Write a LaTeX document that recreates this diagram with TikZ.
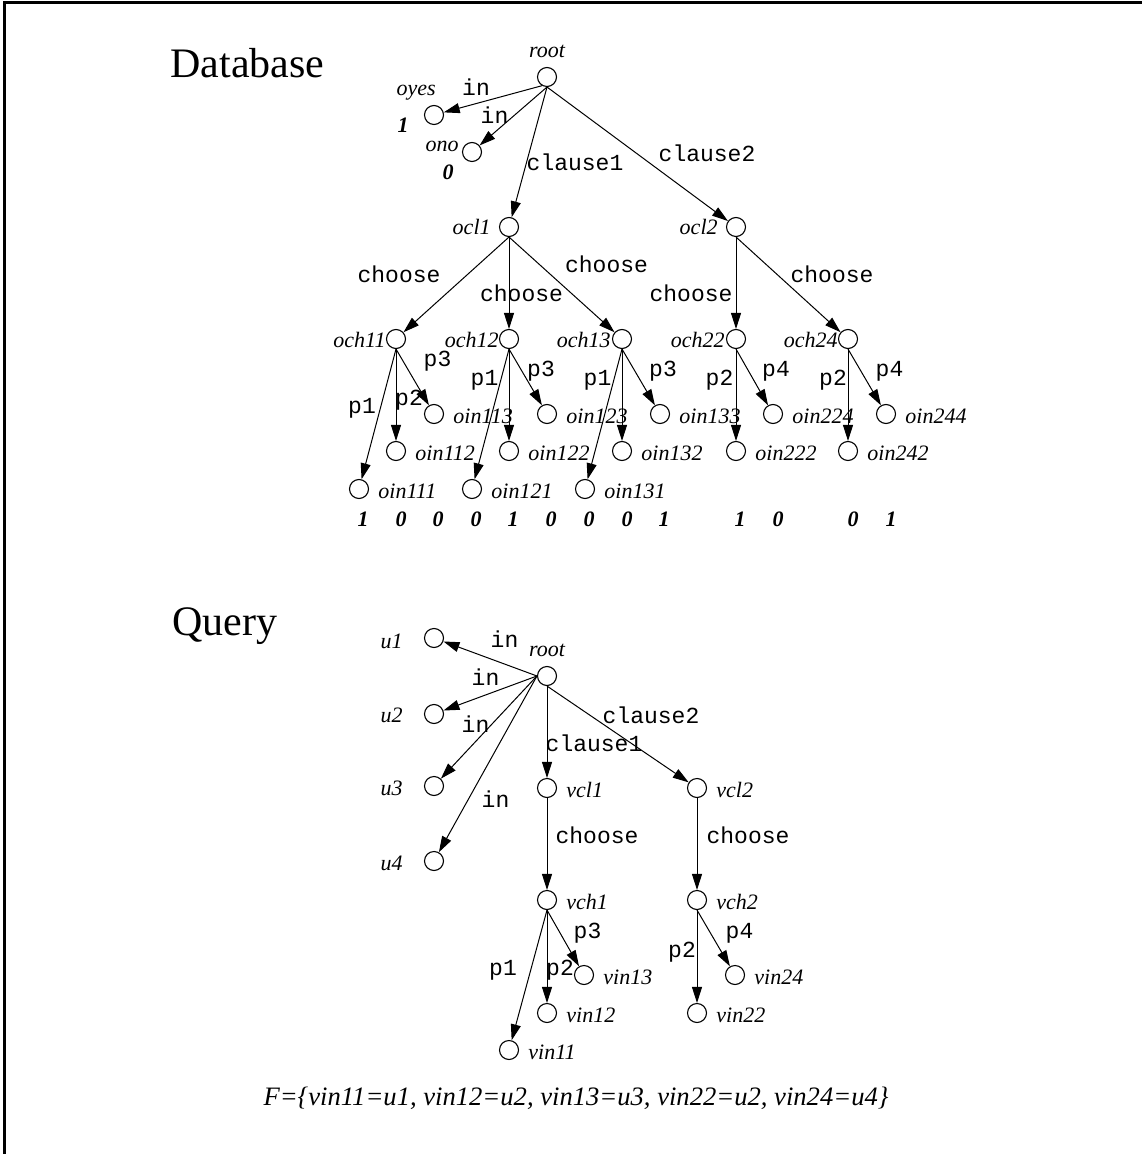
\documentclass[tikz,border=0pt]{standalone}
\usepackage{fontspec}
\setmainfont{Liberation Serif}
\setmonofont{Liberation Mono}
\usetikzlibrary{arrows.meta}

% vertex with its italic name set to the lower right
\newcommand{\leafnode}[4]{%
  \node[vtx] (#1) at (#2,#3) {};
  \node[nm,anchor=base west] (#1-l) at (#2+19,#3+9) {#4};}

\begin{document}
\begin{tikzpicture}[x=0.5pt,y=-0.5pt,
  vtx/.style={circle,draw,line width=0.55pt,minimum size=9.5pt,inner sep=0pt},
  nm/.style={inner sep=0pt,font=\fontsize{11}{13}\selectfont\itshape},
  val/.style={inner sep=0pt,anchor=base,font=\fontsize{11}{13}\selectfont\bfseries\itshape},
  elab/.style={inner sep=0pt,anchor=base,font=\fontsize{11.5}{13}\selectfont\ttfamily},
  title/.style={inner sep=0pt,anchor=base west,font=\fontsize{21}{24}\selectfont},
  formula/.style={inner sep=0pt,anchor=base,font=\fontsize{13.3}{15}\selectfont\itshape},
  edge/.style={-{Triangle[length=8pt,width=5pt]},line width=0.5pt},
  frameline/.style={line width=1.3pt,line join=miter}
]
\useasboundingbox (0,0) rectangle (1142,1154);

% open frame: left and top rules
\draw[frameline] (4.6,1154) -- (4.6,2.8) -- (1142,2.8);

% ---------------- Database ----------------
\node[title] (tdb) at (170,78) {Database};

\node[vtx] (droot) at (547,77) {};
\node[nm,anchor=base] (droot-l) at (547,58) {root};

\node[vtx] (oyes) at (434,115) {};
\node[nm,anchor=base east] (oyes-l) at (436,96) {oyes};
\node[val] (oyes-v) at (403,133) {1};

\node[vtx] (ono) at (472,152) {};
\node[nm,anchor=base east] (ono-l) at (459,152) {ono};
\node[val] (ono-v) at (448,180) {0};

\node[vtx] (ocl1) at (509,227) {};
\node[nm,anchor=base east] (ocl1-l) at (491,235) {ocl1};
\node[vtx] (ocl2) at (736,227) {};
\node[nm,anchor=base east] (ocl2-l) at (718,235) {ocl2};

\node[vtx] (och11) at (396,339) {};
\node[nm,anchor=base east] (och11-l) at (386,348) {och11};
\node[vtx] (och12) at (509,339) {};
\node[nm,anchor=base east] (och12-l) at (499,348) {och12};
\node[vtx] (och13) at (622,339) {};
\node[nm,anchor=base east] (och13-l) at (611,348) {och13};
\node[vtx] (och22) at (736,339) {};
\node[nm,anchor=base east] (och22-l) at (725,348) {och22};
\node[vtx] (och24) at (848,339) {};
\node[nm,anchor=base east] (och24-l) at (838,348) {och24};

\leafnode{oin113}{434}{414}{oin113}
\leafnode{oin112}{396}{451}{oin112}
\leafnode{oin111}{359}{489}{oin111}
\leafnode{oin123}{547}{414}{oin123}
\leafnode{oin122}{509}{451}{oin122}
\leafnode{oin121}{472}{489}{oin121}
\leafnode{oin133}{660}{414}{oin133}
\leafnode{oin132}{622}{451}{oin132}
\leafnode{oin131}{585}{489}{oin131}
\leafnode{oin224}{773}{414}{oin224}
\leafnode{oin222}{736}{451}{oin222}
\leafnode{oin244}{886}{414}{oin244}
\leafnode{oin242}{848}{451}{oin242}

% truth values under the leaves
\node[val] (v1)  at (363,526) {1};
\node[val] (v2)  at (401,526) {0};
\node[val] (v3)  at (438,526) {0};
\node[val] (v4)  at (476,526) {0};
\node[val] (v5)  at (513,526) {1};
\node[val] (v6)  at (551,526) {0};
\node[val] (v7)  at (589,526) {0};
\node[val] (v8)  at (627,526) {0};
\node[val] (v9)  at (664,526) {1};
\node[val] (v10) at (740,526) {1};
\node[val] (v11) at (778,526) {0};
\node[val] (v12) at (853,526) {0};
\node[val] (v13) at (891,526) {1};

% database edges
\draw[edge] (droot.240) -- (oyes);
\draw[edge] (droot.south) -- (ono);
\draw[edge] (droot.south) -- (ocl1);
\draw[edge] (droot.south) -- (ocl2);
\draw[edge] (ocl1.south) -- (och11);
\draw[edge] (ocl1.south) -- (och12);
\draw[edge] (ocl1.south) -- (och13);
\draw[edge] (ocl2.south) -- (och22);
\draw[edge] (ocl2.south) -- (och24);
\draw[edge] (och11.south) -- (oin111);
\draw[edge] (och11.south) -- (oin112);
\draw[edge] (och11.south) -- (oin113);
\draw[edge] (och12.south) -- (oin121);
\draw[edge] (och12.south) -- (oin122);
\draw[edge] (och12.south) -- (oin123);
\draw[edge] (och13.south) -- (oin131);
\draw[edge] (och13.south) -- (oin132);
\draw[edge] (och13.south) -- (oin133);
\draw[edge] (och22.south) -- (oin222);
\draw[edge] (och22.south) -- (oin224);
\draw[edge] (och24.south) -- (oin242);
\draw[edge] (och24.south) -- (oin244);

% database edge labels
\node[elab] (e-in1) at (476,96) {in};
\node[elab] (e-in2) at (494.5,124) {in};
\node[elab] (e-cl1) at (575,171) {clause1};
\node[elab] (e-cl2) at (707,162) {clause2};
\node[elab] (e-ch1) at (399,283) {choose};
\node[elab] (e-ch2) at (521.5,302) {choose};
\node[elab] (e-ch3) at (606.5,273) {choose};
\node[elab] (e-ch4) at (691,302) {choose};
\node[elab] (e-ch5) at (832,283) {choose};
\node[elab] (e-11p3) at (437.5,367) {p3};
\node[elab] (e-11p2) at (409,405) {p2};
\node[elab] (e-11p1) at (362,414) {p1};
\node[elab] (e-12p1) at (484.5,386) {p1};
\node[elab] (e-12p3) at (541,377) {p3};
\node[elab] (e-13p1) at (597.5,386) {p1};
\node[elab] (e-13p3) at (663,377) {p3};
\node[elab] (e-22p2) at (719.5,386) {p2};
\node[elab] (e-22p4) at (776,377) {p4};
\node[elab] (e-24p2) at (833,386) {p2};
\node[elab] (e-24p4) at (889.5,377) {p4};

% ---------------- Query ----------------
\node[title] (tq) at (172,635) {Query};

\node[vtx] (qroot) at (547,676) {};
\node[nm,anchor=base] (qroot-l) at (547,656) {root};

\node[vtx] (u1) at (434,638) {};
\node[nm,anchor=base east] (u1-l) at (403,648) {u1};
\node[vtx] (u2) at (434,714) {};
\node[nm,anchor=base east] (u2-l) at (403,722) {u2};
\node[vtx] (u3) at (434,786) {};
\node[nm,anchor=base east] (u3-l) at (403,795) {u3};
\node[vtx] (u4) at (434,861) {};
\node[nm,anchor=base east] (u4-l) at (403,870) {u4};

\leafnode{vcl1}{547}{788}{vcl1}
\leafnode{vcl2}{697}{788}{vcl2}
\leafnode{vch1}{547}{900}{vch1}
\leafnode{vch2}{697}{900}{vch2}
\leafnode{vin13}{584}{975}{vin13}
\leafnode{vin12}{547}{1013}{vin12}
\leafnode{vin11}{509}{1050}{vin11}
\leafnode{vin24}{735}{975}{vin24}
\leafnode{vin22}{697}{1013}{vin22}

% query edges
\draw[edge] (qroot.west) -- (u1);
\draw[edge] (qroot.west) -- (u2);
\draw[edge] (qroot.west) -- (u3);
\draw[edge] (qroot.west) -- (u4);
\draw[edge] (qroot.south) -- (vcl1);
\draw[edge] (qroot.south) -- (vcl2);
\draw[edge] (vcl1.south) -- (vch1);
\draw[edge] (vcl2.south) -- (vch2);
\draw[edge] (vch1.south) -- (vin11);
\draw[edge] (vch1.south) -- (vin12);
\draw[edge] (vch1.south) -- (vin13);
\draw[edge] (vch2.south) -- (vin22);
\draw[edge] (vch2.south) -- (vin24);

% query edge labels
\node[elab] (q-in1) at (504.5,647) {in};
\node[elab] (q-in2) at (485.5,685) {in};
\node[elab] (q-in3) at (475.5,732) {in};
\node[elab] (q-in4) at (495.5,807) {in};
\node[elab] (q-cl1) at (594,751) {clause1};
\node[elab] (q-cl2) at (651,723) {clause2};
\node[elab] (q-ch1) at (597,843) {choose};
\node[elab] (q-ch2) at (748,843) {choose};
\node[elab] (q-1p3) at (587.5,938) {p3};
\node[elab] (q-1p2) at (560,975) {p2};
\node[elab] (q-1p1) at (503,975) {p1};
\node[elab] (q-2p2) at (682,957) {p2};
\node[elab] (q-2p4) at (739.5,938) {p4};

% variable assignment
\node[formula] (fmap) at (576,1105) {F=\{vin11=u1, vin12=u2, vin13=u3, vin22=u2, vin24=u4\}};
\end{tikzpicture}
\end{document}
